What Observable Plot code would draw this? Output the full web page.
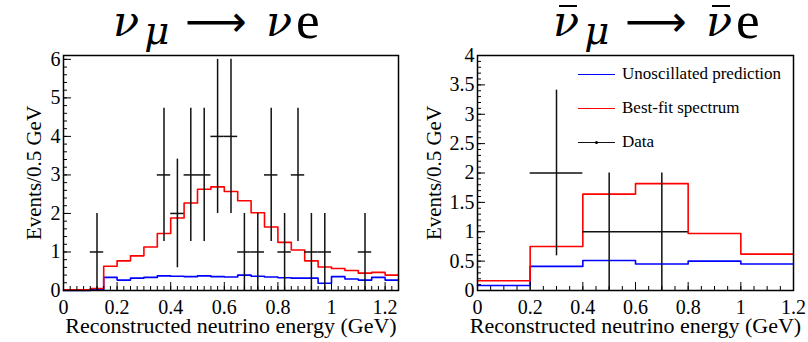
<!DOCTYPE html>
<html>
<head>
<meta charset="utf-8">
<script src="https://cdn.jsdelivr.net/npm/d3@7"></script>
<script src="https://cdn.jsdelivr.net/npm/@observablehq/plot@0.6"></script>
<style>
  body { margin: 0; background: #fff; }
  #wrap { position: relative; width: 808px; height: 342px; overflow: hidden; background: #fff; }
  .panel { position: absolute; top: 0; }
  .title { position: absolute; font-family: "DejaVu Serif", serif; font-size: 43px; line-height: 36px; white-space: nowrap; color: #000; }
  .title i { font-style: italic; }
  .nu { display: inline-block; position: relative; }
  .bar::before { content: ""; position: absolute; left: 0.14em; width: 0.42em; top: 0.05em; border-top: 2.5px solid #000; }
  .sub { font-size: 0.9em; position: relative; top: 0.2em; margin-left: 5px; }
  .sube { font-family: "Liberation Serif", serif; font-size: 1.24em; position: relative; top: 0.03em; font-style: normal; margin-left: 4px; }
  .arrow { font-family: "DejaVu Sans", sans-serif; display: inline-block; margin: 0 19px 0 16px; }
  .legend { position: absolute; left: 578px; font-family: "Liberation Serif", serif; font-size: 17px; color: #000; }
  .legend .row { position: absolute; left: 0; height: 20px; white-space: nowrap; }
  .legend .line { position: absolute; left: 0; width: 37px; height: 0; border-top: 1.6px solid; top: 10px; }
  .legend .dot { position: absolute; left: 17px; top: 9px; width: 3px; height: 3px; background: #000; border-radius: 50%; }
  .legend .lab { position: absolute; left: 44px; top: 0; line-height: 20px; }
</style>
</head>
<body>
<div id="wrap"></div>
<script>
// ---------- Left panel: nu_mu -> nu_e ----------
const nueEdges = [0,0.05,0.1,0.15,0.2,0.25,0.3,0.35,0.4,0.45,0.5,0.55,0.6,0.65,0.7,0.75,0.8,0.85,0.9,0.95,1.0,1.05,1.1,1.15,1.2,1.25];
const nueBestFit = [0.02,0.02,0.05,0.63,0.77,0.90,1.13,1.48,1.88,2.27,2.63,2.69,2.57,2.33,2.02,1.65,1.25,1.05,0.77,0.61,0.57,0.52,0.45,0.47,0.40];
const nueUnosc   = [0.00,0.00,0.02,0.34,0.27,0.32,0.34,0.38,0.37,0.36,0.38,0.36,0.35,0.40,0.37,0.35,0.33,0.32,0.32,0.19,0.36,0.30,0.27,0.34,0.27];
const nueDataE   = [0.125,0.375,0.425,0.475,0.525,0.575,0.625,0.675,0.725,0.775,0.825,0.875,0.925,0.975,1.125];
const nueDataN   = [1,3,2,3,3,4,4,1,1,3,1,3,1,1,1];
const nueDataErr = [1,1.73,1.41,1.73,1.73,2,2,1,1,1.73,1,1.73,1,1,1];
const nueHalfBin = 0.025;
const nueXTicks = [0,0.2,0.4,0.6,0.8,1,1.2];
const nueYTicks = [0,1,2,3,4,5,6];

// ---------- Right panel: anti-nu_mu -> anti-nu_e ----------
const anueEdges = [0,0.2,0.4,0.6,0.8,1.0,1.2];
const anueBestFit = [0.165,0.75,1.64,1.82,0.97,0.62];
const anueUnosc   = [0.085,0.41,0.51,0.45,0.50,0.45];
const anueDataE   = [0.3,0.5,0.7];
const anueDataN   = [2,1,1];
const anueDataErr = [1.41,1,1];
const anueHalfBin = 0.1;
const anueXTicks = [0,0.2,0.4,0.6,0.8,1,1.2];
const anueYTicks = [0,0.5,1,1.5,2,2.5,3,3.5,4];

const legendLabels = ["Unoscillated prediction", "Best-fit spectrum", "Data"];
const colors = {unosc: "#0000ff", best: "#ff0000", data: "#111111"};
const xLabel = "Reconstructed neutrino energy (GeV)";
const yLabel = "Events/0.5 GeV";
const serif = "'Liberation Serif', serif";

function steps(edges, vals) {
  const s = vals.map((v, i) => ({x: edges[i], y: v}));
  s.push({x: edges[vals.length], y: vals[vals.length - 1]});
  return s;
}
function fmt(d) { return String(d); }

function panel(o) {
  const pts = o.dataE.map((x, i) => ({x, n: o.dataN[i], e: o.dataErr[i]}));
  return Plot.plot({
    width: o.width, height: 342,
    marginLeft: o.ml, marginRight: o.mr, marginTop: 55, marginBottom: 52,
    x: {domain: o.xDomain},
    y: {domain: o.yDomain},
    style: {fontFamily: serif, fontSize: "20px", color: "#000", background: "#fff", overflow: "visible"},
    marks: [
      Plot.line(steps(o.edges, o.unosc), {x: "x", y: "y", curve: "step-after", stroke: colors.unosc, strokeWidth: 1.6}),
      Plot.line(steps(o.edges, o.best), {x: "x", y: "y", curve: "step-after", stroke: colors.best, strokeWidth: 1.6}),
      Plot.ruleX(pts, {x: "x", y1: d => d.n - d.e, y2: d => d.n + d.e, stroke: colors.data, strokeWidth: 1.5}),
      Plot.ruleY(pts, {y: "n", x1: d => d.x - o.half, x2: d => d.x + o.half, stroke: colors.data, strokeWidth: 1.5}),
      // inward ticks
      Plot.axisY(o.yMinor, {tickSize: -4, fill: "none", stroke: "#000"}),
      Plot.axisY(o.yTicks, {tickSize: -8, fill: "none", stroke: "#000"}),
      Plot.axisX(o.xMinor, {tickSize: -4, fill: "none", stroke: "#000"}),
      Plot.axisX(o.xTicks, {tickSize: -8, fill: "none", stroke: "#000"}),
      // tick labels
      Plot.axisY(o.yTicks, {tickSize: 0, tickPadding: 3, tickFormat: fmt, fontSize: 20, fontFamily: serif, label: null}),
      Plot.axisX(o.xTicks, {tickSize: 0, tickPadding: 9, tickFormat: fmt, fontSize: 20, fontFamily: serif, label: null}),
      // axis titles
      Plot.axisY([], {tickSize: 0, fontSize: 21, fontFamily: serif,
        label: yLabel, labelAnchor: "center", labelArrow: "none", labelOffset: o.yLabelOffset}),
      Plot.axisX([], {tickSize: 0, fontSize: 22, fontFamily: serif,
        label: xLabel, labelAnchor: "center", labelArrow: "none", labelOffset: 42}),
      Plot.frame({stroke: "#000", strokeWidth: 1.5})
    ]
  });
}

const wrap = document.getElementById("wrap");

const left = panel({
  width: 404, ml: 63, mr: 6,
  xDomain: [0, 1.25], yDomain: [0, 6.1],
  edges: nueEdges, best: nueBestFit, unosc: nueUnosc,
  dataE: nueDataE, dataN: nueDataN, dataErr: nueDataErr, half: nueHalfBin,
  xTicks: nueXTicks, yTicks: nueYTicks,
  xMinor: d3.range(0, 1.2501, 0.025).map(v => +v.toFixed(3)),
  yMinor: d3.range(0, 6.01, 0.2).map(v => +v.toFixed(2)),
  yLabelOffset: 37
});
left.classList.add("panel");
left.style.left = "0px";
wrap.appendChild(left);

const right = panel({
  width: 404, ml: 73, mr: 15,
  xDomain: [0, 1.2], yDomain: [0, 4.0],
  edges: anueEdges, best: anueBestFit, unosc: anueUnosc,
  dataE: anueDataE, dataN: anueDataN, dataErr: anueDataErr, half: anueHalfBin,
  xTicks: anueXTicks, yTicks: anueYTicks,
  xMinor: d3.range(0, 1.2001, 0.05).map(v => +v.toFixed(3)),
  yMinor: d3.range(0, 4.001, 0.1).map(v => +v.toFixed(2)),
  yLabelOffset: 51
});
right.classList.add("panel");
right.style.left = "404px";
wrap.appendChild(right);

// Titles
const t1 = document.createElement("div");
t1.className = "title";
t1.style.left = "113px"; t1.style.top = "0px";
t1.innerHTML = '<i class="nu">ν</i><i class="sub">μ</i><span class="arrow">⟶</span><i class="nu">ν</i><span class="sube">e</span>';
wrap.appendChild(t1);

const t2 = document.createElement("div");
t2.className = "title";
t2.style.left = "553px"; t2.style.top = "0px";
t2.innerHTML = '<i class="nu bar">ν</i><i class="sub">μ</i><span class="arrow">⟶</span><i class="nu bar">ν</i><span class="sube">e</span>';
wrap.appendChild(t2);

// Legend
const lg = document.createElement("div");
lg.className = "legend";
lg.style.top = "0px";
const rowY = [64, 98, 132];
const rowColors = [colors.unosc, colors.best, colors.data];
legendLabels.forEach((lab, i) => {
  const r = document.createElement("div");
  r.className = "row";
  r.style.top = rowY[i] + "px";
  r.innerHTML = '<div class="line" style="border-color:' + rowColors[i] + '"></div>' +
    (i === 2 ? '<div class="dot"></div>' : '') +
    '<div class="lab">' + lab + '</div>';
  lg.appendChild(r);
});
wrap.appendChild(lg);
</script>
</body>
</html>
